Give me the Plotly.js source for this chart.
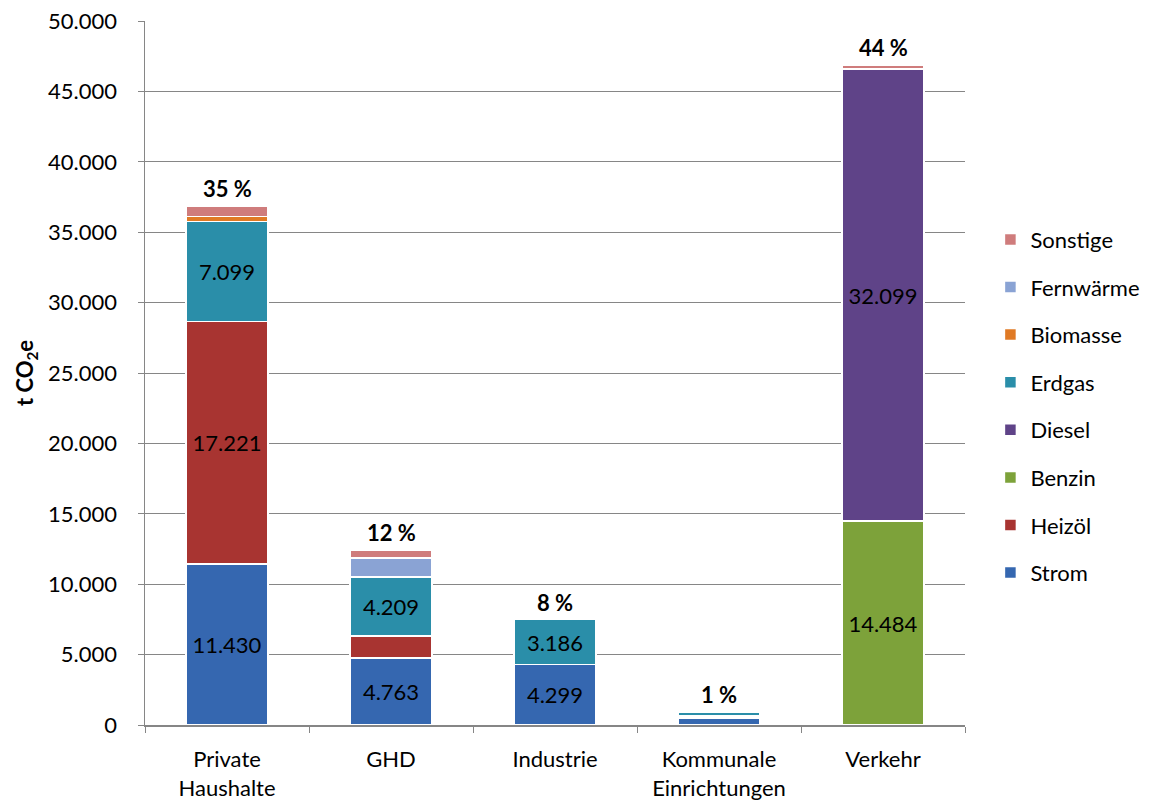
<!DOCTYPE html>
<html>
<head>
<meta charset="utf-8">
<script src="https://cdn.plot.ly/plotly-3.0.1.min.js"></script>
<style>html,body{margin:0;padding:0;background:#fff;}#chart{width:1162px;height:804px;}</style>
</head>
<body>
<div id="chart"></div>
<script>
var categories = ["Private<br>Haushalte", "GHD", "Industrie", "Kommunale<br>Einrichtungen", "Verkehr"];
var strom      = [11430, 4763, 4299, 480, null];
var heizoel    = [17221, 1550, null, 170, null];
var benzin     = [null, null, null, null, 14484];
var diesel     = [null, null, null, null, 32099];
var erdgas     = [7099, 4209, 3186, 250, null];
var biomasse   = [350, null, null, null, null];
var fernwaerme = [null, 1350, null, null, null];
var sonstige   = [750, 550, null, null, 300];
var pctLabels  = ["35 %", "12 %", "8 %", "1 %", "44 %"];
var yTitle = "t CO<sub>2</sub>e";

var FONT = "Lato, 'Open Sans', sans-serif";

function fmt(v) {
  var s = String(Math.round(v));
  return s.replace(/\B(?=(\d{3})+(?!\d))/g, ".");
}
function labels(arr) {
  return arr.map(function (v) { return (v !== null && v >= 3000) ? fmt(v) : ""; });
}

var series = [
  {name: "Strom", y: strom, color: "#3567b0"},
  {name: "Heizöl", y: heizoel, color: "#a83431"},
  {name: "Benzin", y: benzin, color: "#7da23a"},
  {name: "Diesel", y: diesel, color: "#5f4388"},
  {name: "Erdgas", y: erdgas, color: "#2a8ea9"},
  {name: "Biomasse", y: biomasse, color: "#e07a25"},
  {name: "Fernwärme", y: fernwaerme, color: "#8aa3d4"},
  {name: "Sonstige", y: sonstige, color: "#cf7c7c"}
];

var traces = series.map(function (s, i) {
  return {
    type: "bar",
    name: s.name,
    x: categories,
    y: s.y,
    legendgroup: "g" + i,
    legendrank: 100 - i,
    marker: {color: s.color, line: {color: "#ffffff", width: 1.5}},
    text: labels(s.y),
    textposition: "inside",
    insidetextanchor: "middle",
    textangle: 0,
    constraintext: "none",
    textfont: {family: FONT, size: 22, color: "#000000"},
    hoverinfo: "name+y"
  };
});

var totals = categories.map(function (c, j) {
  var t = 0;
  series.forEach(function (s) { if (s.y[j] !== null) t += s.y[j]; });
  return t;
});

var annotations = categories.map(function (c, j) {
  return {
    x: c, y: totals[j], xref: "x", yref: "y",
    text: "<b>" + pctLabels[j] + "</b>",
    showarrow: false, yanchor: "bottom", yshift: 2,
    font: {family: FONT, size: 22, color: "#000000"}
  };
});
annotations.push({
  xref: "paper", yref: "paper", x: -0.145, y: 0.5,
  text: "<b>" + yTitle + "</b>", textangle: -90, showarrow: false,
  xanchor: "center", yanchor: "middle",
  font: {family: FONT, size: 22, color: "#000000"}
});

var layout = {
  width: 1162, height: 804,
  margin: {l: 145, r: 197, t: 21, b: 79},
  paper_bgcolor: "#ffffff", plot_bgcolor: "#ffffff",
  barmode: "stack",
  bargap: 0.5,
  separators: ",.",
  font: {family: FONT, size: 22, color: "#000000"},
  showlegend: true,
  legend: {
    x: 1.031, y: 0.453, xanchor: "left", yanchor: "middle",
    traceorder: "grouped", tracegroupgap: 16,
    font: {family: FONT, size: 22, color: "#000000"},
    bgcolor: "rgba(0,0,0,0)"
  },
  xaxis: {
    type: "category",
    showline: true, linecolor: "#868686", linewidth: 1.5,
    ticks: "outside", tickson: "boundaries", ticklen: 6, tickcolor: "#868686",
    ticklabelstandoff: 14,
    tickfont: {family: FONT, size: 22, color: "#000000"},
    showgrid: false, fixedrange: true
  },
  yaxis: {
    range: [0, 50000], dtick: 5000, tick0: 0,
    tickformat: ",d",
    showline: true, linecolor: "#868686", linewidth: 1.5,
    ticks: "outside", ticklen: 6, tickcolor: "#868686",
    ticklabelstandoff: 16,
    showgrid: true, gridcolor: "#868686", gridwidth: 1,
    zeroline: false,
    tickfont: {family: FONT, size: 22, color: "#000000"},
    fixedrange: true
  },
  annotations: annotations
};

Plotly.newPlot("chart", traces, layout, {displayModeBar: false, staticPlot: true});
</script>
</body>
</html>
